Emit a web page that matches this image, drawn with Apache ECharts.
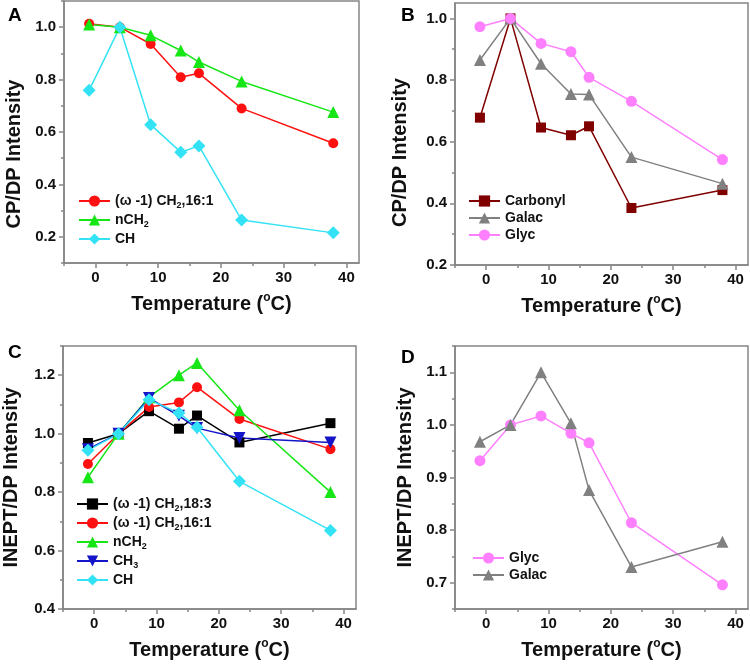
<!DOCTYPE html>
<html>
<head>
<meta charset="utf-8">
<title>CP/DP and INEPT/DP intensity vs temperature</title>
<script src="https://cdn.jsdelivr.net/npm/echarts@6.0.0/dist/echarts.min.js"></script>
<style>
html, body { margin: 0; padding: 0; background: #fff; }
#chart { width: 750px; height: 666px; }
</style>
</head>
<body>
<div id="chart"></div>
<script>
// temperatures (°C), same for every panel
const temps = [-1, 3.9, 8.8, 13.6, 16.5, 23.3, 37.9]

// A: CP/DP
const cpA_w161 = [1.013, 1.0, 0.936, 0.809, 0.824, 0.690, 0.557]
const cpA_nCH2 = [1.01, 1.0, 0.969, 0.911, 0.867, 0.793, 0.676]
const cpA_CH = [0.759, 1.0, 0.628, 0.523, 0.547, 0.264, 0.215]

// B: CP/DP
const cpB_carbonyl = [0.678, 1.0, 0.646, 0.621, 0.650, 0.385, 0.443]
const cpB_galac = [0.865, 1.0, 0.853, 0.755, 0.753, 0.550, 0.464]
const cpB_glyc = [0.973, 1.0, 0.919, 0.892, 0.809, 0.731, 0.542]

// C: INEPT/DP
const inC_w183 = [0.968, 1.0, 1.077, 1.017, 1.062, 0.970, 1.036]
const inC_w161 = [0.896, 1.0, 1.091, 1.107, 1.159, 1.050, 0.947]
const inC_nCH2 = [0.851, 1.0, 1.125, 1.2, 1.242, 1.08, 0.80]
const inC_CH3 = [0.947, 1.0, 1.122, 1.061, 1.019, 0.985, 0.970]
const inC_CH = [0.943, 1.0, 1.116, 1.071, 1.022, 0.837, 0.669]

// D: INEPT/DP
const inD_glyc = [0.932, 1.0, 1.017, 0.984, 0.966, 0.814, 0.696]
const inD_galac = [0.968, 1.0, 1.1, 1.003, 0.876, 0.730, 0.778]

// tick values
const xTicks = [0, 10, 20, 30, 40]
const xMinor = [-5, 5, 15, 25, 35]
const yTicksA = [0.2, 0.4, 0.6, 0.8, 1.0]
const yMinorA = [0.1, 0.3, 0.5, 0.7, 0.9, 1.1]
const yTicksB = [0.2, 0.4, 0.6, 0.8, 1.0]
const yMinorB = [0.3, 0.5, 0.7, 0.9]
const yTicksC = [0.4, 0.6, 0.8, 1.0, 1.2]
const yMinorC = [0.5, 0.7, 0.9, 1.1, 1.3]
const yTicksD = [0.7, 0.8, 0.9, 1.0, 1.1]
const yMinorD = [0.65, 0.75, 0.85, 0.95, 1.05, 1.15]

const font = '"Liberation Sans", Arial, sans-serif'
const frame = '#858585'

const grids = [
  { left: 64, right: 391, top: 1, height: 262 },
  { left: 455, right: 2, top: 3, height: 262 },
  { left: 63, right: 394, top: 346, height: 263 },
  { left: 455, right: 2, top: 346, height: 263 }
]

function mainX(gi) {
  return {
    type: 'value', gridIndex: gi, min: -5, max: 42, position: 'bottom',
    name: 'Temperature ({o|o}C)', nameLocation: 'middle', nameGap: 29,
    nameTextStyle: {
      fontFamily: font, fontSize: 20, fontWeight: 'bold', color: '#111', lineHeight: 24,
      rich: { o: { fontFamily: font, fontSize: 12, fontWeight: 'bold', color: '#111', verticalAlign: 'top', lineHeight: 14 } }
    },
    axisLine: { onZero: false, lineStyle: { color: frame, width: 1.5 } },
    axisTick: { customValues: xTicks, length: 5, lineStyle: { color: frame, width: 1.5 } },
    axisLabel: { customValues: xTicks, margin: 7, fontFamily: font, fontSize: 15, fontWeight: 'bold', color: '#111' },
    splitLine: { show: false }
  }
}

function minorX(gi) {
  return {
    type: 'value', gridIndex: gi, min: -5, max: 42, position: 'bottom',
    axisLine: { show: false, onZero: false },
    axisTick: { customValues: xMinor, length: 3, lineStyle: { color: frame, width: 1.5 } },
    axisLabel: { show: false },
    splitLine: { show: false }
  }
}

function mainY(gi, min, max, ticks, name, gap, shift) {
  return {
    type: 'value', gridIndex: gi, min: min, max: max, position: 'left',
    name: name, nameLocation: 'middle', nameGap: gap,
    nameTextStyle: { fontFamily: font, fontSize: 20, fontWeight: 'bold', color: '#111', padding: [0, shift, 0, 0] },
    axisLine: { onZero: false, lineStyle: { color: frame, width: 1.5 } },
    axisTick: { customValues: ticks, length: 5, lineStyle: { color: frame, width: 1.5 } },
    axisLabel: {
      customValues: ticks, margin: 8, fontFamily: font, fontSize: 15, fontWeight: 'bold', color: '#111',
      formatter: v => v.toFixed(1)
    },
    splitLine: { show: false }
  }
}

function minorY(gi, min, max, ticks) {
  return {
    type: 'value', gridIndex: gi, min: min, max: max, position: 'left',
    axisLine: { show: false, onZero: false },
    axisTick: { customValues: ticks, length: 3, lineStyle: { color: frame, width: 1.5 } },
    axisLabel: { show: false },
    splitLine: { show: false }
  }
}

function line(name, gi, ys, color, symbol, size, rotate) {
  return {
    name: name, type: 'line', xAxisIndex: gi, yAxisIndex: gi,
    data: temps.map((t, i) => [t, ys[i]]),
    symbol: symbol, symbolSize: size, symbolRotate: rotate || 0,
    lineStyle: { color: color, width: 1.5 },
    itemStyle: { color: color },
    animation: false
  }
}

function legend(names, left, top, lh) {
  return {
    data: names, orient: 'vertical', left: left, top: top, padding: 0,
    itemWidth: 31, itemHeight: 14, itemGap: 1,
    formatter: n => n.replace(/CH(\d)/, 'CH{s|$1}'),
    textStyle: {
      fontFamily: font, fontSize: 14, fontWeight: 'bold', color: '#111', lineHeight: lh,
      rich: { s: { fontFamily: font, fontSize: 9, fontWeight: 'bold', color: '#111', verticalAlign: 'bottom', lineHeight: 10 } }
    }
  }
}

function letter(text, left, top) {
  return { text: text, left: left, top: top, padding: 0, textStyle: { fontFamily: font, fontSize: 19, fontWeight: 'bold', color: '#000' } }
}

const red = '#ff1010'
const green = '#16e616'
const cyan = '#33e3f5'
const pink = '#ff80ff'
const gray = '#808080'

const chart = echarts.init(document.getElementById('chart'))
chart.setOption({
  backgroundColor: '#fff',
  animation: false,
  title: [letter('A', 8, 6), letter('B', 401, 6), letter('C', 8, 343), letter('D', 401, 348)],
  grid: grids.map(g => Object.assign({ show: true, borderColor: frame, borderWidth: 1.5 }, g)),
  xAxis: [mainX(0), mainX(1), mainX(2), mainX(3), minorX(0), minorX(1), minorX(2), minorX(3)],
  yAxis: [
    mainY(0, 0.1, 1.1, yTicksA, 'CP/DP Intensity', 40, 44),
    mainY(1, 0.2, 1.05, yTicksB, 'CP/DP Intensity', 45, 37),
    mainY(2, 0.4, 1.3, yTicksC, 'INEPT/DP Intensity', 42, 0),
    mainY(3, 0.65, 1.15, yTicksD, 'INEPT/DP Intensity', 40, 0),
    minorY(0, 0.1, 1.1, yMinorA),
    minorY(1, 0.2, 1.05, yMinorB),
    minorY(2, 0.4, 1.3, yMinorC),
    minorY(3, 0.65, 1.15, yMinorD)
  ],
  legend: [
    legend(['(ω -1) CH2,16:1', 'nCH2', 'CH'], 78, 192, 18),
    legend(['Carbonyl', 'Galac', 'Glyc'], 468, 193, 16),
    legend(['(ω -1) CH2,18:3', '(ω -1) CH2,16:1', 'nCH2', 'CH3', 'CH'], 76, 495, 18),
    legend(['Glyc', 'Galac'], 472, 550, 16)
  ],
  series: [
    line('(ω -1) CH2,16:1', 0, cpA_w161, red, 'circle', 10),
    line('nCH2', 0, cpA_nCH2, green, 'triangle', 12),
    line('CH', 0, cpA_CH, cyan, 'diamond', 13),

    line('Carbonyl', 1, cpB_carbonyl, '#800000', 'rect', 10),
    line('Galac', 1, cpB_galac, gray, 'triangle', 12),
    line('Glyc', 1, cpB_glyc, pink, 'circle', 11),

    line('(ω -1) CH2,18:3', 2, inC_w183, '#000000', 'rect', 10),
    line('(ω -1) CH2,16:1', 2, inC_w161, red, 'circle', 10),
    line('nCH2', 2, inC_nCH2, green, 'triangle', 12),
    line('CH3', 2, inC_CH3, '#1414c8', 'triangle', 12, 180),
    line('CH', 2, inC_CH, cyan, 'diamond', 13),

    line('Glyc', 3, inD_glyc, pink, 'circle', 11),
    line('Galac', 3, inD_galac, gray, 'triangle', 12)
  ]
})
</script>
</body>
</html>
